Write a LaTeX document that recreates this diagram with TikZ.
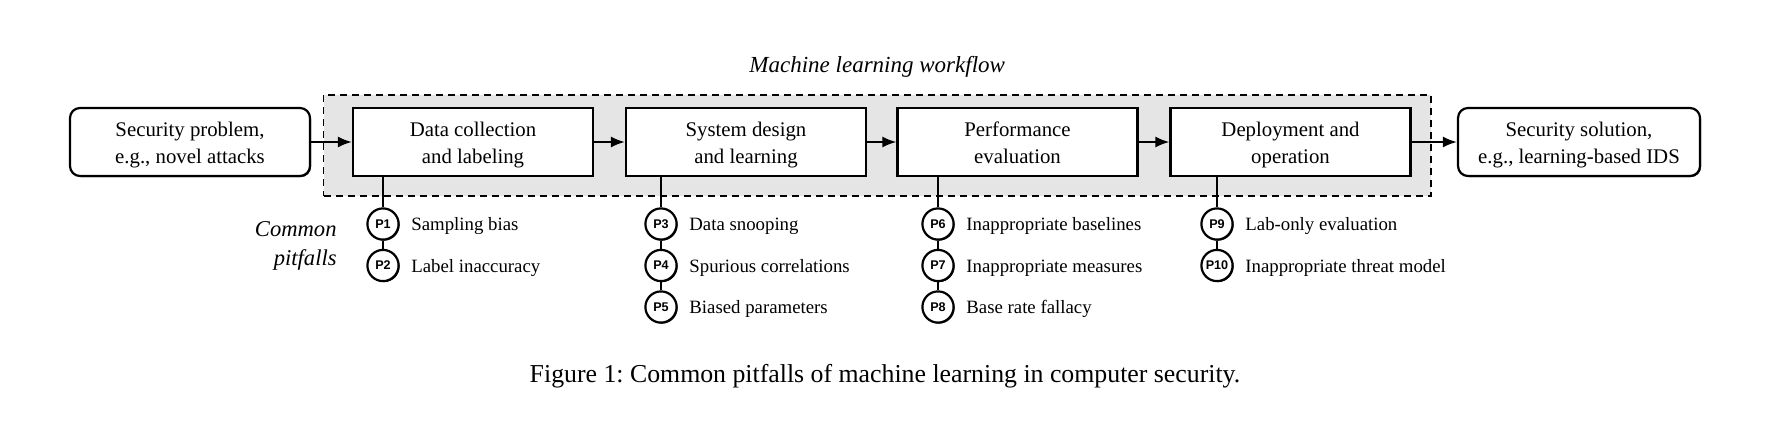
\documentclass[tikz,border=0pt]{standalone}
\usepackage{fontspec}
\setmainfont{Liberation Serif}
\newfontfamily\plabelfont{Liberation Sans}
\usetikzlibrary{arrows.meta,shadows}
\frenchspacing
\newcommand\hightopstrut{\rule{0pt}{11.8pt}}
\begin{document}
\begin{tikzpicture}[x=0.5pt,y=-0.5pt,
  boxshadow/.style={drop shadow={shadow xshift=0.5pt, shadow yshift=-0.5pt, opacity=1, fill=black}},
  stage/.style={draw, line width=1.1pt, fill=white, boxshadow, minimum width=120pt, minimum height=34pt, inner sep=0pt, align=center, font=\fontsize{10.4}{13.6}\selectfont},
  endbox/.style={stage, rounded corners=5pt},
  flow/.style={line width=1pt, -{Latex[length=7pt,width=5.5pt]}},
  pit/.style={circle, draw, line width=1.1pt, fill=white, boxshadow, minimum size=15.6pt, inner sep=0pt, font=\plabelfont\bfseries\fontsize{6.3}{7}\selectfont},
  pitlink/.style={line width=1pt},
  pittext/.style={anchor=base west, inner sep=0pt, font=\fontsize{9.4}{12}\selectfont},
  wfframe/.style={draw, dash pattern=on 3.5pt off 2.5pt, line width=0.8pt, fill=black!10, inner sep=0pt, minimum width=553.7pt, minimum height=50.5pt}
]
\useasboundingbox (0,0) rectangle (1780,440);

\node[wfframe] (frame) at (877.2,145.4) {};
\node[font=\itshape\fontsize{11.5}{14}\selectfont, anchor=base, inner sep=0pt] (title) at (877.2,72) {Machine learning workflow};

\node[endbox] (src) at (190,142) {\hightopstrut Security problem,\\e.g., novel attacks\strut};
\node[stage] (s1) at (473,142) {\hightopstrut Data collection\\and labeling\strut};
\node[stage] (s2) at (746,142) {\hightopstrut System design\\and learning\strut};
\node[stage] (s3) at (1017.5,142) {\hightopstrut Performance\\evaluation\strut};
\node[stage] (s4) at (1290.5,142) {\hightopstrut Deployment and\\operation\strut};
\node[endbox, minimum width=121pt] (dst) at (1579,142) {\hightopstrut Security solution,\\e.g., learning-based IDS\strut};

\draw[flow] (src.east) -- (s1.west);
\draw[flow] (s1.east) -- (s2.west);
\draw[flow] (s2.east) -- (s3.west);
\draw[flow] (s3.east) -- (s4.west);
\draw[flow] (s4.east) -- (dst.west);

\node[anchor=east, align=right, inner sep=0pt, font=\itshape\fontsize{11.3}{14.8}\selectfont] (cp) at (337,246) {Common\\pitfalls};

% column 1
\node[pit] (p1) at (383,224) {P1};
\node[pit] (p2) at (383,265.5) {P2};
% column 2
\node[pit] (p3) at (661,224) {P3};
\node[pit] (p4) at (661,265.5) {P4};
\node[pit] (p5) at (661,307) {P5};
% column 3
\node[pit] (p6) at (938,224) {P6};
\node[pit] (p7) at (938,265.5) {P7};
\node[pit] (p8) at (938,307) {P8};
% column 4
\node[pit] (p9) at (1217,224) {P9};
\node[pit] (p10) at (1217,265.5) {P10};

\draw[pitlink] (s1.south -| p1) -- (p1);
\draw[pitlink] (p1) -- (p2);
\draw[pitlink] (s2.south -| p3) -- (p3);
\draw[pitlink] (p3) -- (p4);
\draw[pitlink] (p4) -- (p5);
\draw[pitlink] (s3.south -| p6) -- (p6);
\draw[pitlink] (p6) -- (p7);
\draw[pitlink] (p7) -- (p8);
\draw[pitlink] (s4.south -| p9) -- (p9);
\draw[pitlink] (p9) -- (p10);

\node[pittext] (t1) at (411,230.5) {Sampling bias};
\node[pittext] (t2) at (411,272) {Label inaccuracy};
\node[pittext] (t3) at (689,230.5) {Data snooping};
\node[pittext] (t4) at (689,272) {Spurious correlations};
\node[pittext] (t5) at (689,313.5) {Biased parameters};
\node[pittext] (t6) at (966,230.5) {Inappropriate baselines};
\node[pittext] (t7) at (966,272) {Inappropriate measures};
\node[pittext] (t8) at (966,313.5) {Base rate fallacy};
\node[pittext] (t9) at (1245,230.5) {Lab-only evaluation};
\node[pittext] (t10) at (1245,272) {Inappropriate threat model};

\node[anchor=base, inner sep=0pt, font=\fontsize{12.9}{16}\selectfont] (cap) at (885,382) {Figure 1: Common pitfalls of machine learning in computer security.};
\end{tikzpicture}
\end{document}
